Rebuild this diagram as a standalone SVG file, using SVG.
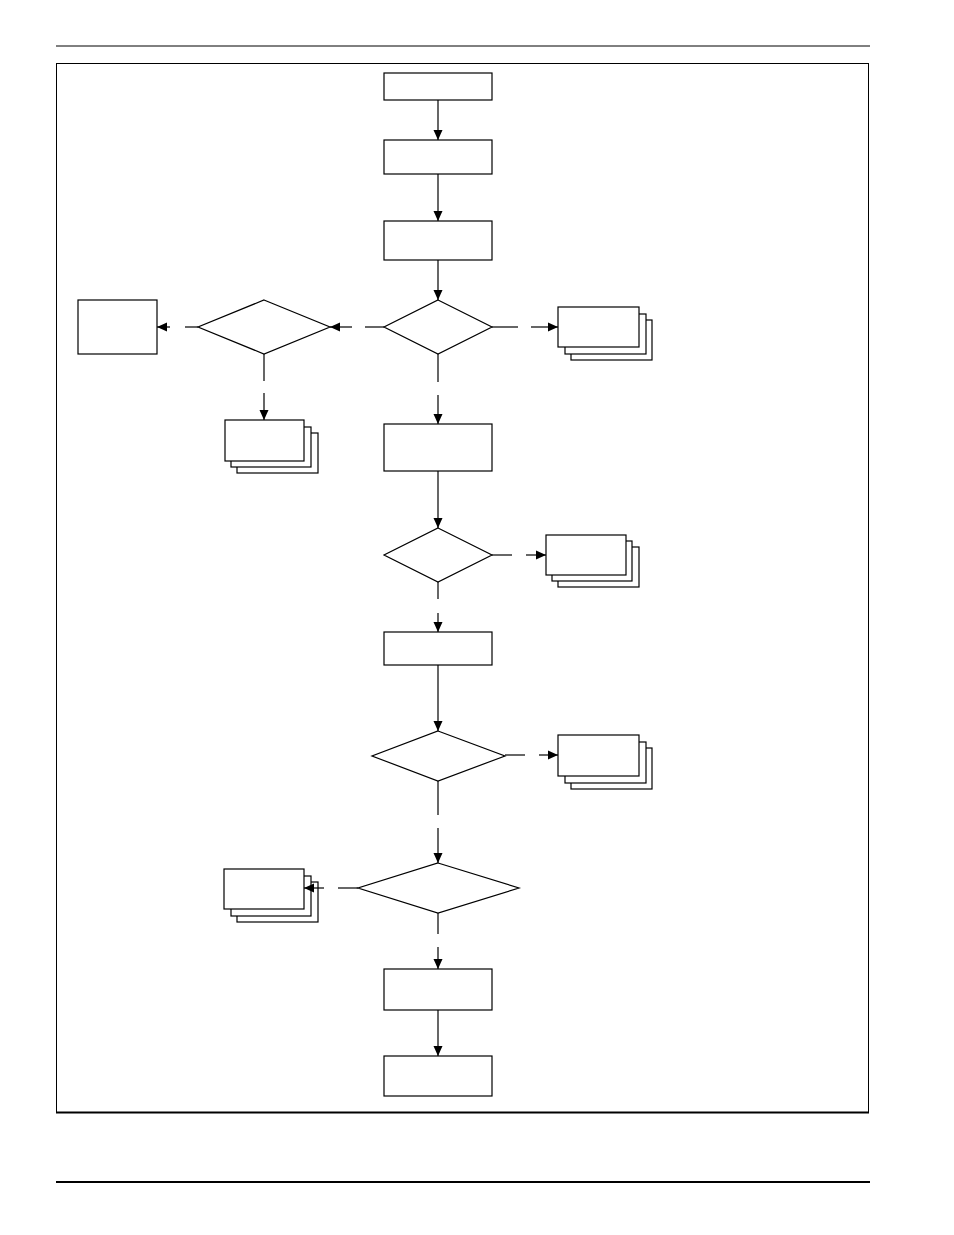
<svg xmlns="http://www.w3.org/2000/svg" width="954" height="1235" viewBox="0 0 954 1235">
<style>
.s{fill:#fff;stroke:#000;stroke-width:1.2}
.c line{stroke:#000;stroke-width:1.2}
.a{marker-end:url(#ah)}
</style>
<defs>
<marker id="ah" markerUnits="userSpaceOnUse" markerWidth="10" markerHeight="10" viewBox="0 0 10 10" refX="10" refY="5" orient="auto"><path d="M0,0.5 L10,5 L0,9.5 Z" fill="#000"/></marker>
</defs>
<rect width="954" height="1235" fill="#fff"/>
<line x1="56" y1="46" x2="870" y2="46" stroke="#000" stroke-width="1"/>
<rect x="56.5" y="63.5" width="812" height="1049" fill="none" stroke="#000" stroke-width="1"/>
<line x1="56" y1="1112.5" x2="869" y2="1112.5" stroke="#000" stroke-width="2"/>
<line x1="56" y1="1182" x2="870" y2="1182" stroke="#000" stroke-width="2"/>
<g id="b1"><rect class="s" x="384" y="73" width="108" height="27"/></g>
<g id="b2"><rect class="s" x="384" y="140" width="108" height="34"/></g>
<g id="b3"><rect class="s" x="384" y="221" width="108" height="39"/></g>
<g id="d1"><polygon class="s" points="438,300 492,327 438,354 384,327"/></g>
<g id="dl"><polygon class="s" points="264,300 330,327 264,354 198,327"/></g>
<g id="bl"><rect class="s" x="78" y="300" width="79" height="54"/></g>
<g id="s1"><rect class="s" x="571" y="320" width="81" height="40"/><rect class="s" x="565" y="314" width="81" height="40"/><rect class="s" x="558" y="307" width="81" height="40"/></g>
<g id="s2"><rect class="s" x="237" y="433" width="81" height="40"/><rect class="s" x="231" y="427" width="80" height="40"/><rect class="s" x="225" y="420" width="79" height="41"/></g>
<g id="b4"><rect class="s" x="384" y="424" width="108" height="47"/></g>
<g id="d2"><polygon class="s" points="438,528 492,555 438,582 384,555"/></g>
<g id="s3"><rect class="s" x="558" y="547" width="81" height="40"/><rect class="s" x="552" y="541" width="80" height="40"/><rect class="s" x="546" y="535" width="80" height="40"/></g>
<g id="b5"><rect class="s" x="384" y="632" width="108" height="33"/></g>
<g id="d3"><polygon class="s" points="438,731 505,756 438,781 372,756"/></g>
<g id="s4"><rect class="s" x="571" y="748" width="81" height="41"/><rect class="s" x="565" y="742" width="81" height="41"/><rect class="s" x="558" y="735" width="81" height="41"/></g>
<g id="d4"><polygon class="s" points="438,863 519,888 438,913 358,888"/></g>
<g id="s5"><rect class="s" x="237" y="882" width="81" height="40"/><rect class="s" x="231" y="876" width="80" height="40"/><rect class="s" x="224" y="869" width="80" height="40"/></g>
<g id="b6"><rect class="s" x="384" y="969" width="108" height="41"/></g>
<g id="b7"><rect class="s" x="384" y="1056" width="108" height="40"/></g>
<g id="connectors" class="c">
<line class="a" x1="438" y1="100" x2="438" y2="140"/>
<line class="a" x1="438" y1="174" x2="438" y2="221"/>
<line class="a" x1="438" y1="260" x2="438" y2="300"/>
<line x1="384" y1="327" x2="365" y2="327"/><line class="a" x1="352" y1="327" x2="330" y2="327"/>
<line x1="198" y1="327" x2="185" y2="327"/><line class="a" x1="170" y1="327" x2="157" y2="327"/>
<line x1="492" y1="327" x2="518" y2="327"/><line class="a" x1="531" y1="327" x2="558" y2="327"/>
<line x1="438" y1="354" x2="438" y2="382"/><line class="a" x1="438" y1="395" x2="438" y2="424"/>
<line x1="264" y1="354" x2="264" y2="381"/><line class="a" x1="264" y1="393" x2="264" y2="420"/>
<line class="a" x1="438" y1="471" x2="438" y2="528"/>
<line x1="492" y1="555" x2="512" y2="555"/><line class="a" x1="526" y1="555" x2="546" y2="555"/>
<line x1="438" y1="582" x2="438" y2="599"/><line class="a" x1="438" y1="613" x2="438" y2="632"/>
<line class="a" x1="438" y1="665" x2="438" y2="731"/>
<line x1="505" y1="755" x2="525" y2="755"/><line class="a" x1="539" y1="755" x2="558" y2="755"/>
<line x1="438" y1="781" x2="438" y2="815"/><line class="a" x1="438" y1="828" x2="438" y2="863"/>
<line x1="358" y1="888" x2="338" y2="888"/><line class="a" x1="324" y1="888" x2="304" y2="888"/>
<line x1="438" y1="913" x2="438" y2="934"/><line class="a" x1="438" y1="947" x2="438" y2="969"/>
<line class="a" x1="438" y1="1010" x2="438" y2="1056"/>
</g>
</svg>
